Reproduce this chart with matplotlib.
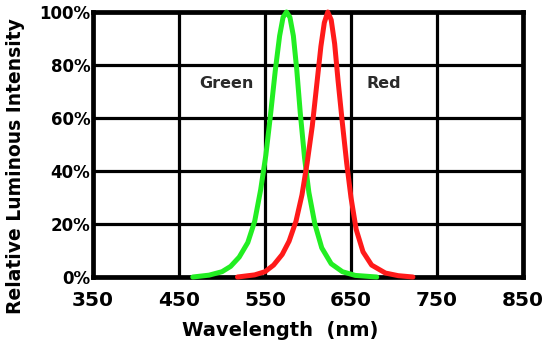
import matplotlib
matplotlib.use("Agg")
import matplotlib.pyplot as plt

# Data
green_nm = [466, 485, 500, 510, 520, 530, 538, 545, 551, 556, 562, 567, 571, 575, 579, 583, 587, 591, 596, 601, 608, 616, 627, 640, 655, 680]
green_pct = [0, 0.7, 2, 4, 7.5, 13, 21, 33, 46, 60, 78, 91, 98, 100, 98, 91, 78, 62, 45, 32, 20, 11, 5, 2, 0.6, 0]
red_nm = [518, 538, 550, 560, 570, 578, 586, 593, 599, 605, 610, 615, 619, 623, 627, 631, 635, 640, 645, 650, 656, 664, 674, 690, 705, 722]
red_pct = [0, 0.8, 2, 4.5, 8.5, 13.5, 21, 31, 43, 57, 72, 87, 96, 100, 97, 88, 74, 58, 43, 30, 18, 9.5, 4.5, 1.5, 0.5, 0]

x_ticks = [350, 450, 550, 650, 750, 850]
y_ticks = [0, 20, 40, 60, 80, 100]
y_tick_labels = ["0%", "20%", "40%", "60%", "80%", "100%"]

fig = plt.figure(figsize=(5.49, 3.47), dpi=100)
ax = fig.add_axes([0.1694, 0.2017, 0.9526 - 0.1694, 0.9654 - 0.2017])

ax.set_xlim(350, 850)
ax.set_ylim(0, 100)
ax.set_xticks(x_ticks)
ax.set_yticks(y_ticks)
ax.set_yticklabels(y_tick_labels)
ax.grid(True, color="black", linewidth=2.3, zorder=1)
ax.set_axisbelow(True)
for s in ax.spines.values():
    s.set_linewidth(3.4)
    s.set_color("black")
ax.tick_params(axis="x", length=0, pad=10)
ax.tick_params(axis="y", length=0, pad=2)
for lab in ax.get_xticklabels():
    lab.set_fontsize(14.5)
    lab.set_fontweight("bold")
for lab in ax.get_yticklabels():
    lab.set_fontsize(12)
    lab.set_fontweight("bold")

ax.text(474, 73, "Green", fontsize=11.5, fontweight="bold", va="center", ha="left", color="#2a2a2a", zorder=2)
ax.text(668, 73, "Red", fontsize=11.5, fontweight="bold", va="center", ha="left", color="#2a2a2a", zorder=2)

ax.plot(green_nm, green_pct, color="#22ee22", linewidth=3.6, zorder=3, clip_on=False, solid_capstyle="round")
ax.plot(red_nm, red_pct, color="#ff1a1a", linewidth=3.6, zorder=4, clip_on=False, solid_capstyle="round")

ax.set_xlabel("Wavelength  (nm)", fontsize=14, fontweight="bold")
ax.xaxis.set_label_coords(0.435, -0.20)
ax.xaxis.label.set_va("center")
ax.set_ylabel("Relative Luminous Intensity", fontsize=13.5, fontweight="bold")
ax.yaxis.set_label_coords(-0.18, 0.42)
ax.yaxis.label.set_va("center")

fig.savefig("out.png", dpi=100)
